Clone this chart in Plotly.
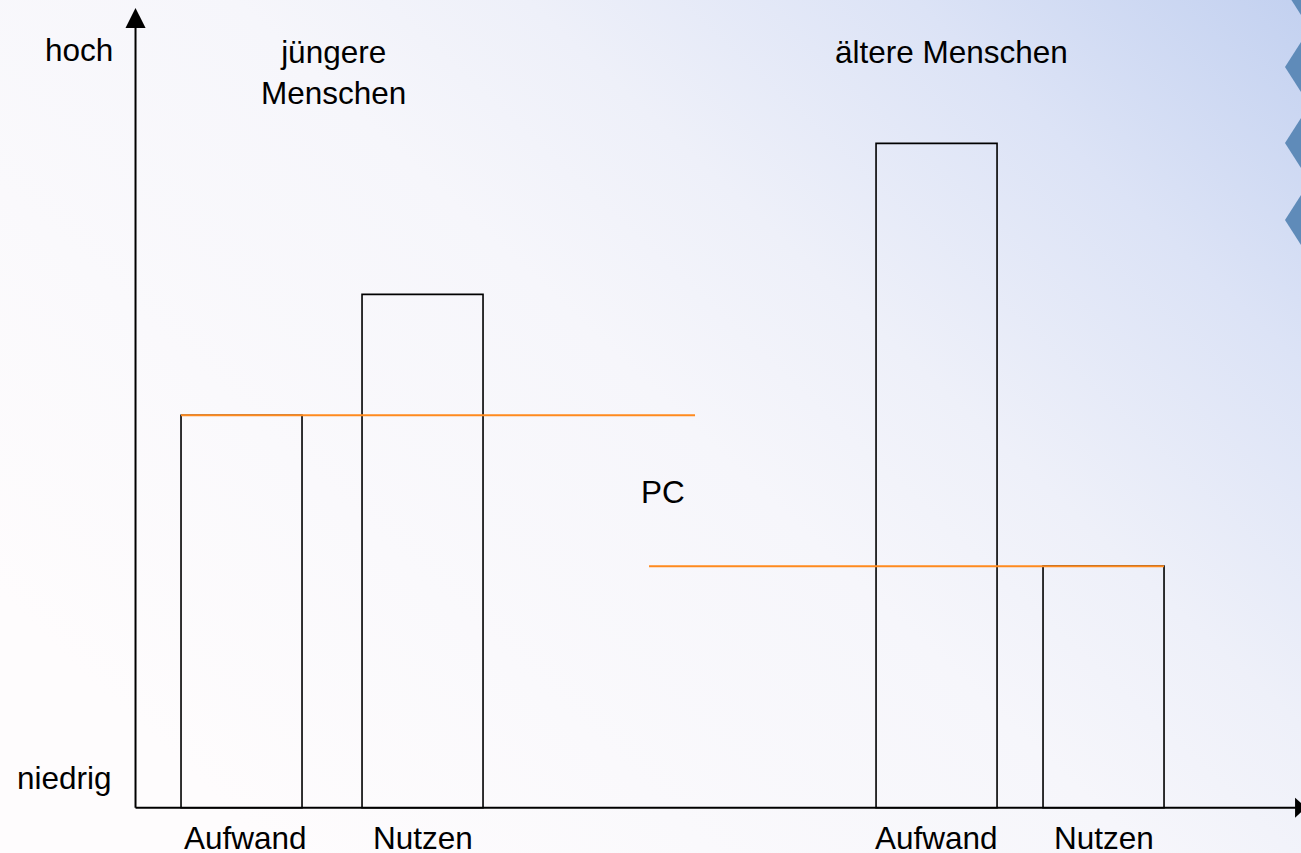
import base64
import plotly.graph_objects as go

# ---------------- data ----------------
groups = ["jüngere<br>Menschen", "ältere Menschen"]
bar_labels = ["Aufwand", "Nutzen"]
young_values = [5.2, 6.8]
old_values = [8.8, 3.2]
pc_levels = [5.2, 3.2]
y_labels = ["niedrig", "hoch"]
pc_label = "PC"

# ---------------- layout constants ----------------
W, H = 1301, 853
X_RANGE = [-1.12, 9.632]          # 1 unit = bar width
Y_RANGE = [-0.6, 10.7]
bar_x = [[0.876, 2.372], [6.620, 8.0]]
pc_x = [[0.376, 4.624], [4.244, 8.5]]
BAR_W = 1.0
FONT = "Liberation Sans, Arial, sans-serif"
FS = 31.5
ORANGE = "#ff8a1e"


def px_to_paper(px, py):
    return px / W, 1 - py / H


fig = go.Figure()

series = [young_values, old_values]
for g, vals in enumerate(series):
    fig.add_trace(go.Bar(
        x=bar_x[g], y=vals, width=BAR_W,
        marker=dict(color="rgba(0,0,0,0)", line=dict(color="black", width=1.6)),
        showlegend=False, hoverinfo="skip",
    ))

for g, lvl in enumerate(pc_levels):
    fig.add_trace(go.Scatter(
        x=pc_x[g], y=[lvl, lvl], mode="lines",
        line=dict(color=ORANGE, width=2), showlegend=False, hoverinfo="skip",
    ))

shapes = []
# axes
shapes.append(dict(type="line", xref="x", yref="y", x0=0, x1=0, y0=0, y1=10.36,
                   line=dict(color="black", width=2)))
shapes.append(dict(type="line", xref="x", yref="y", x0=0, x1=9.59, y0=0, y1=0,
                   line=dict(color="black", width=2)))
shapes.append(dict(type="path", xref="x", yref="y",
                   path="M -0.083 10.33 L 0 10.594 L 0.083 10.33 Z",
                   fillcolor="black", line=dict(width=0)))
shapes.append(dict(type="path", xref="x", yref="y",
                   path="M 9.583 0.1325 L 9.674 0 L 9.583 -0.1325 Z",
                   fillcolor="black", line=dict(width=0)))
# decorative diamonds on the right edge
for cy in [-10, 67, 143, 220]:
    pts = [px_to_paper(1285, cy), px_to_paper(1301, cy - 25),
           px_to_paper(1310, cy), px_to_paper(1301, cy + 25)]
    path = "M " + " L ".join(f"{a:.5f} {b:.5f}" for a, b in pts) + " Z"
    shapes.append(dict(type="path", xref="paper", yref="paper", path=path,
                       fillcolor="#5f8bb9", line=dict(width=0), layer="below"))

annotations = []


def add_text(text, px, py):
    x, y = px_to_paper(px, py)
    annotations.append(dict(text=text, x=x, y=y, xref="paper", yref="paper",
                            xanchor="center", yanchor="middle", showarrow=False,
                            font=dict(family=FONT, size=FS, color="black")))


# y labels
add_text(y_labels[1], 79, 50)
add_text(y_labels[0], 64, 778)
# group titles
add_text(groups[0], 333, 72)
add_text(groups[1], 951, 52)
add_text(pc_label, 663, 492)
# bar category labels (x from data positions)
for g in range(2):
    for i, lab in enumerate(bar_labels):
        annotations.append(dict(text=lab, x=bar_x[g][i], y=px_to_paper(0, 838)[1],
                                xref="x", yref="paper", xanchor="center",
                                yanchor="middle", showarrow=False,
                                xshift=4 if (g == 0 and i == 0) else 0,
                                font=dict(family=FONT, size=FS, color="black")))

svg = f'''<svg xmlns="http://www.w3.org/2000/svg" width="{W}" height="{H}" viewBox="0 0 {W} {H}" preserveAspectRatio="none">
<defs><linearGradient id="g" x1="0" y1="0.7" x2="1" y2="0">
<stop offset="0" stop-color="#fefcfd"/>
<stop offset="0.45" stop-color="#f6f6fb"/>
<stop offset="0.6" stop-color="#eef0f9"/>
<stop offset="0.8" stop-color="#dce3f6"/>
<stop offset="1" stop-color="#c3d1f0"/>
</linearGradient></defs>
<rect width="{W}" height="{H}" fill="url(#g)"/></svg>'''
src = "data:image/svg+xml;base64," + base64.b64encode(svg.encode()).decode()

fig.update_layout(
    width=W, height=H,
    margin=dict(l=0, r=0, t=0, b=0),
    paper_bgcolor="white", plot_bgcolor="rgba(0,0,0,0)",
    xaxis=dict(range=X_RANGE, visible=False, fixedrange=True),
    yaxis=dict(range=Y_RANGE, visible=False, fixedrange=True),
    shapes=shapes, annotations=annotations,
    images=[dict(source=src, xref="paper", yref="paper", x=0, y=1, sizex=1, sizey=1,
                 xanchor="left", yanchor="top", sizing="stretch", layer="below")],
    font=dict(family=FONT),
)

fig.write_html("out.html", config={"displayModeBar": False},
               post_script="document.body.style.margin='0';document.body.style.overflow='hidden';")
